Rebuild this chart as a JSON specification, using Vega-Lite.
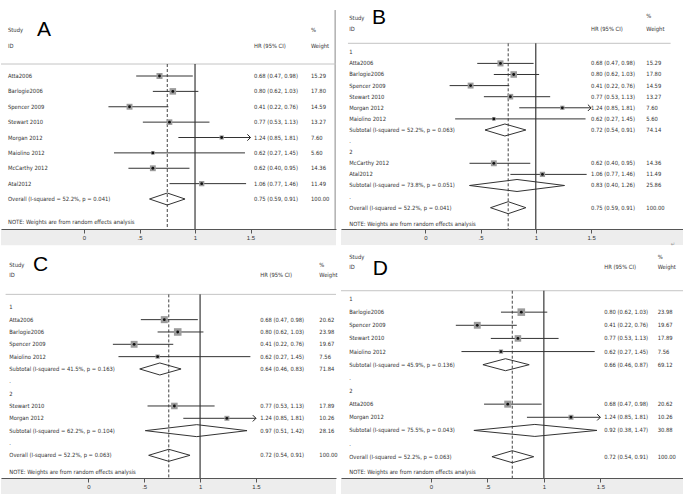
{
"$schema": "https://vega.github.io/schema/vega-lite/v6.json",
"padding": 0,
"background": "white",
"bounds": "flush",
"columns": 2,
"spacing": {"row": 20, "column": 5},
"datasets": {
 "A": [
  {"row": 0, "label": "Atta2006", "kind": "s", "hr": 0.68, "lo": 0.47, "hi": 0.98, "ci": "0.68 (0.47, 0.98)", "wt": 15.29},
  {"row": 1, "label": "Barlogie2006", "kind": "s", "hr": 0.80, "lo": 0.62, "hi": 1.03, "ci": "0.80 (0.62, 1.03)", "wt": 17.80},
  {"row": 2, "label": "Spencer 2009", "kind": "s", "hr": 0.41, "lo": 0.22, "hi": 0.76, "ci": "0.41 (0.22, 0.76)", "wt": 14.59},
  {"row": 3, "label": "Stewart 2010", "kind": "s", "hr": 0.77, "lo": 0.53, "hi": 1.13, "ci": "0.77 (0.53, 1.13)", "wt": 13.27},
  {"row": 4, "label": "Morgan 2012", "kind": "s", "hr": 1.24, "lo": 0.85, "hi": 1.81, "ci": "1.24 (0.85, 1.81)", "wt": 7.60},
  {"row": 5, "label": "Maiolino 2012", "kind": "s", "hr": 0.62, "lo": 0.27, "hi": 1.45, "ci": "0.62 (0.27, 1.45)", "wt": 5.60},
  {"row": 6, "label": "McCarthy 2012", "kind": "s", "hr": 0.62, "lo": 0.40, "hi": 0.95, "ci": "0.62 (0.40, 0.95)", "wt": 14.36},
  {"row": 7, "label": "Atal2012", "kind": "s", "hr": 1.06, "lo": 0.77, "hi": 1.46, "ci": "1.06 (0.77, 1.46)", "wt": 11.49},
  {"row": 8, "label": "Overall  (I-squared = 52.2%, p = 0.041)", "kind": "all", "hr": 0.75, "lo": 0.59, "hi": 0.91, "ci": "0.75 (0.59, 0.91)", "wt": 100.00}
 ],
 "B": [
  {"row": 0, "label": "1", "kind": "g"},
  {"row": 1, "label": "Atta2006", "kind": "s", "hr": 0.68, "lo": 0.47, "hi": 0.98, "ci": "0.68 (0.47, 0.98)", "wt": 15.29},
  {"row": 2, "label": "Barlogie2006", "kind": "s", "hr": 0.80, "lo": 0.62, "hi": 1.03, "ci": "0.80 (0.62, 1.03)", "wt": 17.80},
  {"row": 3, "label": "Spencer 2009", "kind": "s", "hr": 0.41, "lo": 0.22, "hi": 0.76, "ci": "0.41 (0.22, 0.76)", "wt": 14.59},
  {"row": 4, "label": "Stewart 2010", "kind": "s", "hr": 0.77, "lo": 0.53, "hi": 1.13, "ci": "0.77 (0.53, 1.13)", "wt": 13.27},
  {"row": 5, "label": "Morgan 2012", "kind": "s", "hr": 1.24, "lo": 0.85, "hi": 1.81, "ci": "1.24 (0.85, 1.81)", "wt": 7.60},
  {"row": 6, "label": "Maiolino 2012", "kind": "s", "hr": 0.62, "lo": 0.27, "hi": 1.45, "ci": "0.62 (0.27, 1.45)", "wt": 5.60},
  {"row": 7, "label": "Subtotal  (I-squared = 52.2%, p = 0.063)", "kind": "sub", "hr": 0.72, "lo": 0.54, "hi": 0.91, "ci": "0.72 (0.54, 0.91)", "wt": 74.14},
  {"row": 8, "label": ".", "kind": "g"},
  {"row": 9, "label": "2", "kind": "g"},
  {"row": 10, "label": "McCarthy 2012", "kind": "s", "hr": 0.62, "lo": 0.40, "hi": 0.95, "ci": "0.62 (0.40, 0.95)", "wt": 14.36},
  {"row": 11, "label": "Atal2012", "kind": "s", "hr": 1.06, "lo": 0.77, "hi": 1.46, "ci": "1.06 (0.77, 1.46)", "wt": 11.49},
  {"row": 12, "label": "Subtotal  (I-squared = 73.8%, p = 0.051)", "kind": "sub", "hr": 0.83, "lo": 0.40, "hi": 1.26, "ci": "0.83 (0.40, 1.26)", "wt": 25.86},
  {"row": 13, "label": ".", "kind": "g"},
  {"row": 14, "label": "Overall  (I-squared = 52.2%, p = 0.041)", "kind": "all", "hr": 0.75, "lo": 0.59, "hi": 0.91, "ci": "0.75 (0.59, 0.91)", "wt": 100.00}
 ],
 "C": [
  {"row": 0, "label": "1", "kind": "g"},
  {"row": 1, "label": "Atta2006", "kind": "s", "hr": 0.68, "lo": 0.47, "hi": 0.98, "ci": "0.68 (0.47, 0.98)", "wt": 20.62},
  {"row": 2, "label": "Barlogie2006", "kind": "s", "hr": 0.80, "lo": 0.62, "hi": 1.03, "ci": "0.80 (0.62, 1.03)", "wt": 23.98},
  {"row": 3, "label": "Spencer 2009", "kind": "s", "hr": 0.41, "lo": 0.22, "hi": 0.76, "ci": "0.41 (0.22, 0.76)", "wt": 19.67},
  {"row": 4, "label": "Maiolino 2012", "kind": "s", "hr": 0.62, "lo": 0.27, "hi": 1.45, "ci": "0.62 (0.27, 1.45)", "wt": 7.56},
  {"row": 5, "label": "Subtotal  (I-squared = 41.5%, p = 0.163)", "kind": "sub", "hr": 0.64, "lo": 0.46, "hi": 0.83, "ci": "0.64 (0.46, 0.83)", "wt": 71.84},
  {"row": 6, "label": ".", "kind": "g"},
  {"row": 7, "label": "2", "kind": "g"},
  {"row": 8, "label": "Stewart 2010", "kind": "s", "hr": 0.77, "lo": 0.53, "hi": 1.13, "ci": "0.77 (0.53, 1.13)", "wt": 17.89},
  {"row": 9, "label": "Morgan 2012", "kind": "s", "hr": 1.24, "lo": 0.85, "hi": 1.81, "ci": "1.24 (0.85, 1.81)", "wt": 10.26},
  {"row": 10, "label": "Subtotal  (I-squared = 62.2%, p = 0.104)", "kind": "sub", "hr": 0.97, "lo": 0.51, "hi": 1.42, "ci": "0.97 (0.51, 1.42)", "wt": 28.16},
  {"row": 11, "label": ".", "kind": "g"},
  {"row": 12, "label": "Overall  (I-squared = 52.2%, p = 0.063)", "kind": "all", "hr": 0.72, "lo": 0.54, "hi": 0.91, "ci": "0.72 (0.54, 0.91)", "wt": 100.00}
 ],
 "D": [
  {"row": 0, "label": "1", "kind": "g"},
  {"row": 1, "label": "Barlogie2006", "kind": "s", "hr": 0.80, "lo": 0.62, "hi": 1.03, "ci": "0.80 (0.62, 1.03)", "wt": 23.98},
  {"row": 2, "label": "Spencer 2009", "kind": "s", "hr": 0.41, "lo": 0.22, "hi": 0.76, "ci": "0.41 (0.22, 0.76)", "wt": 19.67},
  {"row": 3, "label": "Stewart 2010", "kind": "s", "hr": 0.77, "lo": 0.53, "hi": 1.13, "ci": "0.77 (0.53, 1.13)", "wt": 17.89},
  {"row": 4, "label": "Maiolino 2012", "kind": "s", "hr": 0.62, "lo": 0.27, "hi": 1.45, "ci": "0.62 (0.27, 1.45)", "wt": 7.56},
  {"row": 5, "label": "Subtotal  (I-squared = 45.9%, p = 0.136)", "kind": "sub", "hr": 0.66, "lo": 0.46, "hi": 0.87, "ci": "0.66 (0.46, 0.87)", "wt": 69.12},
  {"row": 6, "label": ".", "kind": "g"},
  {"row": 7, "label": "2", "kind": "g"},
  {"row": 8, "label": "Atta2006", "kind": "s", "hr": 0.68, "lo": 0.47, "hi": 0.98, "ci": "0.68 (0.47, 0.98)", "wt": 20.62},
  {"row": 9, "label": "Morgan 2012", "kind": "s", "hr": 1.24, "lo": 0.85, "hi": 1.81, "ci": "1.24 (0.85, 1.81)", "wt": 10.26},
  {"row": 10, "label": "Subtotal  (I-squared = 75.5%, p = 0.043)", "kind": "sub", "hr": 0.92, "lo": 0.38, "hi": 1.47, "ci": "0.92 (0.38, 1.47)", "wt": 30.88},
  {"row": 11, "label": ".", "kind": "g"},
  {"row": 12, "label": "Overall  (I-squared = 52.2%, p = 0.063)", "kind": "all", "hr": 0.72, "lo": 0.54, "hi": 0.91, "ci": "0.72 (0.54, 0.91)", "wt": 100.00}
 ]
},
"concat": [
 {"width": 335, "height": 229, "data": {"name": "A"},
  "layer": [
   {"data": {"values": [{}]}, "mark": {"type": "rect", "color": "#ededed"},
    "encoding": {
     "x": {"datum": -0.748, "type": "quantitative", "scale": {"domain": [-0.748, 2.27], "nice": false, "zero": false}, "axis": {"values": [0, 0.5, 1, 1.5], "labelExpr": "datum.value == 0.5 ? '.5' : datum.value == 1.5 ? '1.5' : datum.value == 1 ? '1' : '0'", "title": null, "zindex": 2}},
     "x2": {"datum": 2.27},
     "y": {"datum": 9.951, "type": "quantitative", "scale": {"domain": [-4.943, 9.951], "reverse": true, "nice": false, "zero": false}},
     "y2": {"datum": 11.0}}},
   {"data": {"values": [{}]}, "mark": {"type": "rule", "color": "#888"}, "encoding": {"x": {"datum": 2.262}, "y": {"datum": -4.29}, "y2": {"datum": 9.951}}},
   {"data": {"values": [{}]}, "mark": {"type": "rule", "color": "#c4c4c4"}, "encoding": {"x": {"datum": -0.748}, "x2": {"datum": 2.27}, "y": {"datum": -0.78}}},
   {"data": {"values": [{}]}, "mark": {"type": "rule", "color": "#111"}, "encoding": {"x": {"datum": 1}, "y": {"datum": -0.78}, "y2": {"datum": 9.951}}},
   {"transform": [{"filter": "datum.kind == 'all'"}], "mark": {"type": "rule", "color": "#444", "strokeDash": [3, 2]}, "encoding": {"x": {"field": "hr", "type": "quantitative"}, "y": {"datum": -0.78}, "y2": {"datum": 9.951}}},
   {"transform": [{"filter": "datum.kind == 's' && datum.hi <= 1.5"}], "mark": {"type": "rule", "color": "#333"}, "encoding": {"x": {"field": "lo", "type": "quantitative"}, "x2": {"field": "hi"}, "y": {"field": "row", "type": "quantitative"}}},
   {"transform": [{"filter": "datum.kind == 's' && datum.hi > 1.5"}], "mark": {"type": "rule", "color": "#333"}, "encoding": {"x": {"field": "lo", "type": "quantitative"}, "x2": {"datum": 1.5}, "y": {"field": "row", "type": "quantitative"}}},
   {"transform": [{"filter": "datum.kind == 's' && datum.hi > 1.5"}], "mark": {"type": "point", "shape": "M-1,-1L0,0L-1,1", "filled": false, "color": "#222", "size": 40, "strokeWidth": 1, "opacity": 1}, "encoding": {"x": {"datum": 1.5}, "y": {"field": "row", "type": "quantitative"}}},
   {"transform": [{"filter": "datum.kind == 's'"}], "mark": {"type": "point", "shape": "square", "filled": true, "color": "#9c9c9c", "opacity": 1}, "encoding": {"x": {"field": "hr", "type": "quantitative"}, "y": {"field": "row", "type": "quantitative"}, "size": {"field": "wt", "type": "quantitative", "scale": {"domain": [0, 25], "range": [0, 60]}, "legend": null}}},
   {"transform": [{"filter": "datum.kind == 's'"}], "mark": {"type": "point", "shape": "circle", "filled": true, "color": "#111", "size": 8, "opacity": 1}, "encoding": {"x": {"field": "hr", "type": "quantitative"}, "y": {"field": "row", "type": "quantitative"}}},
   {"transform": [{"filter": "datum.kind == 'sub' || datum.kind == 'all'"}], "mark": {"type": "rule", "color": "#333", "y2Offset": -6}, "encoding": {"x": {"field": "lo", "type": "quantitative"}, "x2": {"field": "hr"}, "y": {"field": "row", "type": "quantitative"}, "y2": {"field": "row"}}},
   {"transform": [{"filter": "datum.kind == 'sub' || datum.kind == 'all'"}], "mark": {"type": "rule", "color": "#333", "y2Offset": 6}, "encoding": {"x": {"field": "lo", "type": "quantitative"}, "x2": {"field": "hr"}, "y": {"field": "row", "type": "quantitative"}, "y2": {"field": "row"}}},
   {"transform": [{"filter": "datum.kind == 'sub' || datum.kind == 'all'"}], "mark": {"type": "rule", "color": "#333", "y2Offset": -6}, "encoding": {"x": {"field": "hi", "type": "quantitative"}, "x2": {"field": "hr"}, "y": {"field": "row", "type": "quantitative"}, "y2": {"field": "row"}}},
   {"transform": [{"filter": "datum.kind == 'sub' || datum.kind == 'all'"}], "mark": {"type": "rule", "color": "#333", "y2Offset": 6}, "encoding": {"x": {"field": "hi", "type": "quantitative"}, "x2": {"field": "hr"}, "y": {"field": "row", "type": "quantitative"}, "y2": {"field": "row"}}},
   {"mark": {"type": "text"}, "encoding": {"x": {"datum": -0.685}, "y": {"field": "row", "type": "quantitative"}, "text": {"field": "label"}}},
   {"transform": [{"filter": "datum.kind != 'g'"}], "mark": {"type": "text"}, "encoding": {"x": {"datum": 1.532}, "y": {"field": "row", "type": "quantitative"}, "text": {"field": "ci"}}},
   {"transform": [{"filter": "datum.kind != 'g'"}], "mark": {"type": "text"}, "encoding": {"x": {"datum": 2.045}, "y": {"field": "row", "type": "quantitative"}, "text": {"field": "wt", "type": "quantitative", "format": ".2f"}}},
   {"data": {"values": [{}]}, "mark": {"type": "text", "text": "Study"}, "encoding": {"x": {"datum": -0.685}, "y": {"datum": -2.99}}},
   {"data": {"values": [{}]}, "mark": {"type": "text", "text": "ID"}, "encoding": {"x": {"datum": -0.685}, "y": {"datum": -1.97}}},
   {"data": {"values": [{}]}, "mark": {"type": "text", "text": "HR (95% CI)"}, "encoding": {"x": {"datum": 1.532}, "y": {"datum": -1.97}}},
   {"data": {"values": [{}]}, "mark": {"type": "text", "text": "%"}, "encoding": {"x": {"datum": 2.045}, "y": {"datum": -2.99}}},
   {"data": {"values": [{}]}, "mark": {"type": "text", "text": "Weight"}, "encoding": {"x": {"datum": 2.045}, "y": {"datum": -1.97}}},
   {"data": {"values": [{}]}, "mark": {"type": "text", "text": "NOTE: Weights are from random effects analysis"}, "encoding": {"x": {"datum": -0.685}, "y": {"datum": 9.52}}},
   {"data": {"values": [{}]}, "mark": {"type": "text", "text": "A", "fontSize": 21, "color": "#000", "font": "Liberation Sans"}, "encoding": {"x": {"datum": -0.423}, "y": {"datum": -2.96}}}
  ]},
 {"width": 343, "height": 229, "data": {"name": "B"},
  "layer": [
   {"data": {"values": [{}]}, "mark": {"type": "rect", "color": "#ededed"},
    "encoding": {
     "x": {"datum": -0.763, "type": "quantitative", "scale": {"domain": [-0.763, 2.341], "nice": false, "zero": false}, "axis": {"values": [0, 0.5, 1, 1.5], "labelExpr": "datum.value == 0.5 ? '.5' : datum.value == 1.5 ? '1.5' : datum.value == 1 ? '1' : '0'", "title": null, "zindex": 2}},
     "x2": {"datum": 2.341},
     "y": {"datum": 15.92, "type": "quantitative", "scale": {"domain": [-4.712, 15.92], "reverse": true, "nice": false, "zero": false}},
     "y2": {"datum": 17.36}}},
   {"data": {"values": [{}]}, "mark": {"type": "rule", "color": "#c4c4c4"}, "encoding": {"x": {"datum": -0.7}, "x2": {"datum": 2.22}, "y": {"datum": -0.81}}},
   {"data": {"values": [{}]}, "mark": {"type": "rule", "color": "#111"}, "encoding": {"x": {"datum": 1}, "y": {"datum": -0.81}, "y2": {"datum": 15.92}}},
   {"transform": [{"filter": "datum.kind == 'all'"}], "mark": {"type": "rule", "color": "#444", "strokeDash": [3, 2]}, "encoding": {"x": {"field": "hr", "type": "quantitative"}, "y": {"datum": -0.81}, "y2": {"datum": 15.92}}},
   {"transform": [{"filter": "datum.kind == 's' && datum.hi <= 1.5"}], "mark": {"type": "rule", "color": "#333"}, "encoding": {"x": {"field": "lo", "type": "quantitative"}, "x2": {"field": "hi"}, "y": {"field": "row", "type": "quantitative"}}},
   {"transform": [{"filter": "datum.kind == 's' && datum.hi > 1.5"}], "mark": {"type": "rule", "color": "#333"}, "encoding": {"x": {"field": "lo", "type": "quantitative"}, "x2": {"datum": 1.5}, "y": {"field": "row", "type": "quantitative"}}},
   {"transform": [{"filter": "datum.kind == 's' && datum.hi > 1.5"}], "mark": {"type": "point", "shape": "M-1,-1L0,0L-1,1", "filled": false, "color": "#222", "size": 40, "strokeWidth": 1, "opacity": 1}, "encoding": {"x": {"datum": 1.5}, "y": {"field": "row", "type": "quantitative"}}},
   {"transform": [{"filter": "datum.kind == 's'"}], "mark": {"type": "point", "shape": "square", "filled": true, "color": "#9c9c9c", "opacity": 1}, "encoding": {"x": {"field": "hr", "type": "quantitative"}, "y": {"field": "row", "type": "quantitative"}, "size": {"field": "wt", "type": "quantitative", "scale": {"domain": [0, 25], "range": [0, 60]}, "legend": null}}},
   {"transform": [{"filter": "datum.kind == 's'"}], "mark": {"type": "point", "shape": "circle", "filled": true, "color": "#111", "size": 8, "opacity": 1}, "encoding": {"x": {"field": "hr", "type": "quantitative"}, "y": {"field": "row", "type": "quantitative"}}},
   {"transform": [{"filter": "datum.kind == 'sub' || datum.kind == 'all'"}], "mark": {"type": "rule", "color": "#333", "y2Offset": -6}, "encoding": {"x": {"field": "lo", "type": "quantitative"}, "x2": {"field": "hr"}, "y": {"field": "row", "type": "quantitative"}, "y2": {"field": "row"}}},
   {"transform": [{"filter": "datum.kind == 'sub' || datum.kind == 'all'"}], "mark": {"type": "rule", "color": "#333", "y2Offset": 6}, "encoding": {"x": {"field": "lo", "type": "quantitative"}, "x2": {"field": "hr"}, "y": {"field": "row", "type": "quantitative"}, "y2": {"field": "row"}}},
   {"transform": [{"filter": "datum.kind == 'sub' || datum.kind == 'all'"}], "mark": {"type": "rule", "color": "#333", "y2Offset": -6}, "encoding": {"x": {"field": "hi", "type": "quantitative"}, "x2": {"field": "hr"}, "y": {"field": "row", "type": "quantitative"}, "y2": {"field": "row"}}},
   {"transform": [{"filter": "datum.kind == 'sub' || datum.kind == 'all'"}], "mark": {"type": "rule", "color": "#333", "y2Offset": 6}, "encoding": {"x": {"field": "hi", "type": "quantitative"}, "x2": {"field": "hr"}, "y": {"field": "row", "type": "quantitative"}, "y2": {"field": "row"}}},
   {"mark": {"type": "text"}, "encoding": {"x": {"datum": -0.688}, "y": {"field": "row", "type": "quantitative"}, "text": {"field": "label"}}},
   {"transform": [{"filter": "datum.kind != 'g'"}], "mark": {"type": "text"}, "encoding": {"x": {"datum": 1.5}, "y": {"field": "row", "type": "quantitative"}, "text": {"field": "ci"}}},
   {"transform": [{"filter": "datum.kind != 'g'"}], "mark": {"type": "text"}, "encoding": {"x": {"datum": 2.0}, "y": {"field": "row", "type": "quantitative"}, "text": {"field": "wt", "type": "quantitative", "format": ".2f"}}},
   {"data": {"values": [{}]}, "mark": {"type": "text", "text": "Study"}, "encoding": {"x": {"datum": -0.688}, "y": {"datum": -3.06}}},
   {"data": {"values": [{}]}, "mark": {"type": "text", "text": "ID"}, "encoding": {"x": {"datum": -0.688}, "y": {"datum": -2.07}}},
   {"data": {"values": [{}]}, "mark": {"type": "text", "text": "HR (95% CI)"}, "encoding": {"x": {"datum": 1.5}, "y": {"datum": -2.07}}},
   {"data": {"values": [{}]}, "mark": {"type": "text", "text": "%"}, "encoding": {"x": {"datum": 2.0}, "y": {"datum": -3.27}}},
   {"data": {"values": [{}]}, "mark": {"type": "text", "text": "Weight"}, "encoding": {"x": {"datum": 2.0}, "y": {"datum": -2.07}}},
   {"data": {"values": [{}]}, "mark": {"type": "text", "text": "NOTE: Weights are from random effects analysis"}, "encoding": {"x": {"datum": -0.688}, "y": {"datum": 15.44}}},
   {"data": {"values": [{}]}, "mark": {"type": "text", "text": "↵", "color": "#999"}, "encoding": {"x": {"datum": 2.22}, "y": {"datum": 17.27}}},
   {"data": {"values": [{}]}, "mark": {"type": "text", "text": "B", "fontSize": 21, "color": "#000", "font": "Liberation Sans"}, "encoding": {"x": {"datum": -0.482}, "y": {"datum": -3.05}}}
  ]},
 {"width": 335, "height": 229, "data": {"name": "C"},
  "layer": [
   {"data": {"values": [{}]}, "mark": {"type": "rect", "color": "#ededed"},
    "encoding": {
     "x": {"datum": -0.781, "type": "quantitative", "scale": {"domain": [-0.781, 2.216], "nice": false, "zero": false}, "axis": {"values": [0, 0.5, 1, 1.5], "labelExpr": "datum.value == 0.5 ? '.5' : datum.value == 1.5 ? '1.5' : datum.value == 1 ? '1' : '0'", "title": null, "zindex": 2}},
     "x2": {"datum": 2.216},
     "y": {"datum": 13.84, "type": "quantitative", "scale": {"domain": [-4.728, 13.84], "reverse": true, "nice": false, "zero": false}},
     "y2": {"datum": 15.14}}},
   {"data": {"values": [{}]}, "mark": {"type": "rule", "color": "#c4c4c4"}, "encoding": {"x": {"datum": -0.74}, "x2": {"datum": 2.216}, "y": {"datum": -1.05}}},
   {"data": {"values": [{}]}, "mark": {"type": "rule", "color": "#111"}, "encoding": {"x": {"datum": 1}, "y": {"datum": -1.05}, "y2": {"datum": 13.84}}},
   {"transform": [{"filter": "datum.kind == 'all'"}], "mark": {"type": "rule", "color": "#444", "strokeDash": [3, 2]}, "encoding": {"x": {"field": "hr", "type": "quantitative"}, "y": {"datum": -1.05}, "y2": {"datum": 13.84}}},
   {"transform": [{"filter": "datum.kind == 's' && datum.hi <= 1.5"}], "mark": {"type": "rule", "color": "#333"}, "encoding": {"x": {"field": "lo", "type": "quantitative"}, "x2": {"field": "hi"}, "y": {"field": "row", "type": "quantitative"}}},
   {"transform": [{"filter": "datum.kind == 's' && datum.hi > 1.5"}], "mark": {"type": "rule", "color": "#333"}, "encoding": {"x": {"field": "lo", "type": "quantitative"}, "x2": {"datum": 1.5}, "y": {"field": "row", "type": "quantitative"}}},
   {"transform": [{"filter": "datum.kind == 's' && datum.hi > 1.5"}], "mark": {"type": "point", "shape": "M-1,-1L0,0L-1,1", "filled": false, "color": "#222", "size": 40, "strokeWidth": 1, "opacity": 1}, "encoding": {"x": {"datum": 1.5}, "y": {"field": "row", "type": "quantitative"}}},
   {"transform": [{"filter": "datum.kind == 's'"}], "mark": {"type": "point", "shape": "square", "filled": true, "color": "#9c9c9c", "opacity": 1}, "encoding": {"x": {"field": "hr", "type": "quantitative"}, "y": {"field": "row", "type": "quantitative"}, "size": {"field": "wt", "type": "quantitative", "scale": {"domain": [0, 25], "range": [0, 60]}, "legend": null}}},
   {"transform": [{"filter": "datum.kind == 's'"}], "mark": {"type": "point", "shape": "circle", "filled": true, "color": "#111", "size": 8, "opacity": 1}, "encoding": {"x": {"field": "hr", "type": "quantitative"}, "y": {"field": "row", "type": "quantitative"}}},
   {"transform": [{"filter": "datum.kind == 'sub' || datum.kind == 'all'"}], "mark": {"type": "rule", "color": "#333", "y2Offset": -6}, "encoding": {"x": {"field": "lo", "type": "quantitative"}, "x2": {"field": "hr"}, "y": {"field": "row", "type": "quantitative"}, "y2": {"field": "row"}}},
   {"transform": [{"filter": "datum.kind == 'sub' || datum.kind == 'all'"}], "mark": {"type": "rule", "color": "#333", "y2Offset": 6}, "encoding": {"x": {"field": "lo", "type": "quantitative"}, "x2": {"field": "hr"}, "y": {"field": "row", "type": "quantitative"}, "y2": {"field": "row"}}},
   {"transform": [{"filter": "datum.kind == 'sub' || datum.kind == 'all'"}], "mark": {"type": "rule", "color": "#333", "y2Offset": -6}, "encoding": {"x": {"field": "hi", "type": "quantitative"}, "x2": {"field": "hr"}, "y": {"field": "row", "type": "quantitative"}, "y2": {"field": "row"}}},
   {"transform": [{"filter": "datum.kind == 'sub' || datum.kind == 'all'"}], "mark": {"type": "rule", "color": "#333", "y2Offset": 6}, "encoding": {"x": {"field": "hi", "type": "quantitative"}, "x2": {"field": "hr"}, "y": {"field": "row", "type": "quantitative"}, "y2": {"field": "row"}}},
   {"mark": {"type": "text"}, "encoding": {"x": {"datum": -0.707}, "y": {"field": "row", "type": "quantitative"}, "text": {"field": "label"}}},
   {"transform": [{"filter": "datum.kind != 'g'"}], "mark": {"type": "text"}, "encoding": {"x": {"datum": 1.538}, "y": {"field": "row", "type": "quantitative"}, "text": {"field": "ci"}}},
   {"transform": [{"filter": "datum.kind != 'g'"}], "mark": {"type": "text"}, "encoding": {"x": {"datum": 2.067}, "y": {"field": "row", "type": "quantitative"}, "text": {"field": "wt", "type": "quantitative", "format": ".2f"}}},
   {"data": {"values": [{}]}, "mark": {"type": "text", "text": "Study"}, "encoding": {"x": {"datum": -0.707}, "y": {"datum": -3.43}}},
   {"data": {"values": [{}]}, "mark": {"type": "text", "text": "ID"}, "encoding": {"x": {"datum": -0.707}, "y": {"datum": -2.62}}},
   {"data": {"values": [{}]}, "mark": {"type": "text", "text": "HR (95% CI)"}, "encoding": {"x": {"datum": 1.538}, "y": {"datum": -2.62}}},
   {"data": {"values": [{}]}, "mark": {"type": "text", "text": "%"}, "encoding": {"x": {"datum": 2.067}, "y": {"datum": -3.43}}},
   {"data": {"values": [{}]}, "mark": {"type": "text", "text": "Weight"}, "encoding": {"x": {"datum": 2.067}, "y": {"datum": -2.62}}},
   {"data": {"values": [{}]}, "mark": {"type": "text", "text": "NOTE: Weights are from random effects analysis"}, "encoding": {"x": {"datum": -0.707}, "y": {"datum": 13.38}}},
   {"data": {"values": [{}]}, "mark": {"type": "text", "text": "C", "fontSize": 21, "color": "#000", "font": "Liberation Sans"}, "encoding": {"x": {"datum": -0.495}, "y": {"datum": -3.43}}}
  ]},
 {"width": 343, "height": 229, "data": {"name": "D"},
  "layer": [
   {"data": {"values": [{}]}, "mark": {"type": "rect", "color": "#ededed"},
    "encoding": {
     "x": {"datum": -0.797, "type": "quantitative", "scale": {"domain": [-0.797, 2.241], "nice": false, "zero": false}, "axis": {"values": [0, 0.5, 1, 1.5], "labelExpr": "datum.value == 0.5 ? '.5' : datum.value == 1.5 ? '1.5' : datum.value == 1 ? '1' : '0'", "title": null, "zindex": 2}},
     "x2": {"datum": 2.241},
     "y": {"datum": 13.62, "type": "quantitative", "scale": {"domain": [-3.805, 13.62], "reverse": true, "nice": false, "zero": false}},
     "y2": {"datum": 14.84}}},
   {"data": {"values": [{}]}, "mark": {"type": "rule", "color": "#c4c4c4"}, "encoding": {"x": {"datum": -0.797}, "x2": {"datum": 2.241}, "y": {"datum": -0.63}}},
   {"data": {"values": [{}]}, "mark": {"type": "rule", "color": "#111"}, "encoding": {"x": {"datum": 1}, "y": {"datum": -0.63}, "y2": {"datum": 13.62}}},
   {"transform": [{"filter": "datum.kind == 'all'"}], "mark": {"type": "rule", "color": "#444", "strokeDash": [3, 2]}, "encoding": {"x": {"field": "hr", "type": "quantitative"}, "y": {"datum": -0.63}, "y2": {"datum": 13.62}}},
   {"transform": [{"filter": "datum.kind == 's' && datum.hi <= 1.5"}], "mark": {"type": "rule", "color": "#333"}, "encoding": {"x": {"field": "lo", "type": "quantitative"}, "x2": {"field": "hi"}, "y": {"field": "row", "type": "quantitative"}}},
   {"transform": [{"filter": "datum.kind == 's' && datum.hi > 1.5"}], "mark": {"type": "rule", "color": "#333"}, "encoding": {"x": {"field": "lo", "type": "quantitative"}, "x2": {"datum": 1.5}, "y": {"field": "row", "type": "quantitative"}}},
   {"transform": [{"filter": "datum.kind == 's' && datum.hi > 1.5"}], "mark": {"type": "point", "shape": "M-1,-1L0,0L-1,1", "filled": false, "color": "#222", "size": 40, "strokeWidth": 1, "opacity": 1}, "encoding": {"x": {"datum": 1.5}, "y": {"field": "row", "type": "quantitative"}}},
   {"transform": [{"filter": "datum.kind == 's'"}], "mark": {"type": "point", "shape": "square", "filled": true, "color": "#9c9c9c", "opacity": 1}, "encoding": {"x": {"field": "hr", "type": "quantitative"}, "y": {"field": "row", "type": "quantitative"}, "size": {"field": "wt", "type": "quantitative", "scale": {"domain": [0, 25], "range": [0, 60]}, "legend": null}}},
   {"transform": [{"filter": "datum.kind == 's'"}], "mark": {"type": "point", "shape": "circle", "filled": true, "color": "#111", "size": 8, "opacity": 1}, "encoding": {"x": {"field": "hr", "type": "quantitative"}, "y": {"field": "row", "type": "quantitative"}}},
   {"transform": [{"filter": "datum.kind == 'sub' || datum.kind == 'all'"}], "mark": {"type": "rule", "color": "#333", "y2Offset": -6}, "encoding": {"x": {"field": "lo", "type": "quantitative"}, "x2": {"field": "hr"}, "y": {"field": "row", "type": "quantitative"}, "y2": {"field": "row"}}},
   {"transform": [{"filter": "datum.kind == 'sub' || datum.kind == 'all'"}], "mark": {"type": "rule", "color": "#333", "y2Offset": 6}, "encoding": {"x": {"field": "lo", "type": "quantitative"}, "x2": {"field": "hr"}, "y": {"field": "row", "type": "quantitative"}, "y2": {"field": "row"}}},
   {"transform": [{"filter": "datum.kind == 'sub' || datum.kind == 'all'"}], "mark": {"type": "rule", "color": "#333", "y2Offset": -6}, "encoding": {"x": {"field": "hi", "type": "quantitative"}, "x2": {"field": "hr"}, "y": {"field": "row", "type": "quantitative"}, "y2": {"field": "row"}}},
   {"transform": [{"filter": "datum.kind == 'sub' || datum.kind == 'all'"}], "mark": {"type": "rule", "color": "#333", "y2Offset": 6}, "encoding": {"x": {"field": "hi", "type": "quantitative"}, "x2": {"field": "hr"}, "y": {"field": "row", "type": "quantitative"}, "y2": {"field": "row"}}},
   {"mark": {"type": "text"}, "encoding": {"x": {"datum": -0.724}, "y": {"field": "row", "type": "quantitative"}, "text": {"field": "label"}}},
   {"transform": [{"filter": "datum.kind != 'g'"}], "mark": {"type": "text"}, "encoding": {"x": {"datum": 1.535}, "y": {"field": "row", "type": "quantitative"}, "text": {"field": "ci"}}},
   {"transform": [{"filter": "datum.kind != 'g'"}], "mark": {"type": "text"}, "encoding": {"x": {"datum": 2.008}, "y": {"field": "row", "type": "quantitative"}, "text": {"field": "wt", "type": "quantitative", "format": ".2f"}}},
   {"data": {"values": [{}]}, "mark": {"type": "text", "text": "Study"}, "encoding": {"x": {"datum": -0.724}, "y": {"datum": -3.22}}},
   {"data": {"values": [{}]}, "mark": {"type": "text", "text": "ID"}, "encoding": {"x": {"datum": -0.724}, "y": {"datum": -2.41}}},
   {"data": {"values": [{}]}, "mark": {"type": "text", "text": "HR (95% CI)"}, "encoding": {"x": {"datum": 1.535}, "y": {"datum": -2.41}}},
   {"data": {"values": [{}]}, "mark": {"type": "text", "text": "%"}, "encoding": {"x": {"datum": 2.008}, "y": {"datum": -3.22}}},
   {"data": {"values": [{}]}, "mark": {"type": "text", "text": "Weight"}, "encoding": {"x": {"datum": 2.008}, "y": {"datum": -2.41}}},
   {"data": {"values": [{}]}, "mark": {"type": "text", "text": "NOTE: Weights are from random effects analysis"}, "encoding": {"x": {"datum": -0.724}, "y": {"datum": 13.14}}},
   {"data": {"values": [{}]}, "mark": {"type": "text", "text": "D", "fontSize": 21, "color": "#000", "font": "Liberation Sans"}, "encoding": {"x": {"datum": -0.516}, "y": {"datum": -2.28}}}
  ]}
],
"config": {
 "view": {"stroke": null},
 "font": "Liberation Sans",
 "text": {"font": "'Liberation Sans Narrow', 'DejaVu Sans Condensed', 'Liberation Sans', sans-serif", "fontSize": 5.8, "color": "#333", "align": "left", "baseline": "middle"},
 "rule": {"strokeWidth": 1},
 "axisY": {"disable": true},
 "axisX": {"grid": false, "domainColor": "#555", "tickColor": "#555", "tickSize": 4, "labelFontSize": 6, "labelColor": "#333", "labelFont": "'Liberation Sans Narrow', 'Liberation Sans', sans-serif", "labelPadding": 1, "zindex": 2, "titleOpacity": 0}
}
}
